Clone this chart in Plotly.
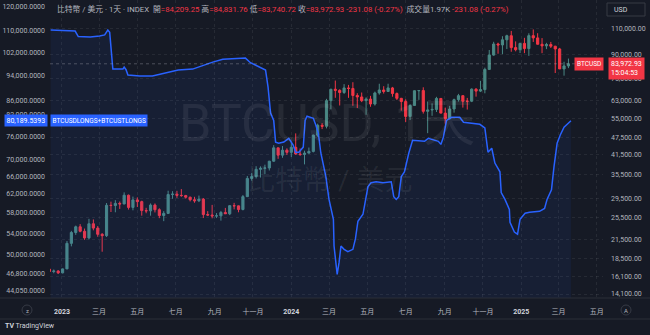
import plotly.graph_objects as go
import math

# ---------------- data ----------------
# Weekly BTCUSD candles (week start, open, high, low, close)
week = ["2022-12-12","2022-12-19","2022-12-26","2023-01-02","2023-01-09","2023-01-16","2023-01-23","2023-01-30",
        "2023-02-06","2023-02-13","2023-02-20","2023-02-27","2023-03-06","2023-03-13","2023-03-20","2023-03-27",
        "2023-04-03","2023-04-10","2023-04-17","2023-04-24","2023-05-01","2023-05-08","2023-05-15","2023-05-22",
        "2023-05-29","2023-06-05","2023-06-12","2023-06-19","2023-06-26","2023-07-03","2023-07-10","2023-07-17",
        "2023-07-24","2023-07-31","2023-08-07","2023-08-14","2023-08-21","2023-08-28","2023-09-04","2023-09-11",
        "2023-09-18","2023-09-25","2023-10-02","2023-10-09","2023-10-16","2023-10-23","2023-10-30","2023-11-06",
        "2023-11-13","2023-11-20","2023-11-27","2023-12-04","2023-12-11","2023-12-18","2023-12-25","2024-01-01",
        "2024-01-08","2024-01-15","2024-01-22","2024-01-29","2024-02-05","2024-02-12","2024-02-19","2024-02-26",
        "2024-03-04","2024-03-11","2024-03-18","2024-03-25","2024-04-01","2024-04-08","2024-04-15","2024-04-22",
        "2024-04-29","2024-05-06","2024-05-13","2024-05-20","2024-05-27","2024-06-03","2024-06-10","2024-06-17",
        "2024-06-24","2024-07-01","2024-07-08","2024-07-15","2024-07-22","2024-07-29","2024-08-05","2024-08-12",
        "2024-08-19","2024-08-26","2024-09-02","2024-09-09","2024-09-16","2024-09-23","2024-09-30","2024-10-07",
        "2024-10-14","2024-10-21","2024-10-28","2024-11-04","2024-11-11","2024-11-18","2024-11-25","2024-12-02",
        "2024-12-09","2024-12-16","2024-12-23","2024-12-30","2025-01-06","2025-01-13","2025-01-20","2025-01-27",
        "2025-02-03","2025-02-10","2025-02-17","2025-02-24","2025-03-03","2025-03-10","2025-03-17"]
btc_open = [17100,16780,16840,16610,17130,20880,22710,23740,22930,21780,24300,23500,22400,22160,28040,27990,
            28460,28340,30320,27590,29240,28850,26920,26860,28100,27100,25900,26340,30480,30580,30290,30240,
            29860,29280,29040,29420,26100,26000,25830,25840,26530,26250,27970,27920,27150,29990,34530,35030,
            37060,37360,37450,39470,43780,41370,42990,42280,43950,41730,41580,42030,42580,48300,52140,51730,
            63110,68950,68370,67230,69650,69350,65700,64950,63100,63900,61480,67000,68550,67770,69650,66680,
            64250,62680,55850,60800,68160,68250,58100,58720,58960,64200,57300,54870,59150,63600,65600,62850,
            62850,69000,67950,68750,80400,89850,97900,97200,101150,104400,95200,93700,98350,94500,104450,102650,
            97700,96500,97500,96250,94200,80700,82600]
btc_high = [18400,17050,16970,17180,21260,23000,23960,24240,23420,25250,25130,23880,22600,28550,28850,29180,
            28880,31000,30480,30000,29820,29060,27500,28450,28450,27400,26800,31400,31280,31380,31800,30400,
            29980,29950,30240,29670,26800,28130,26400,26850,27480,27300,28580,27980,30380,35200,35980,37970,
            37920,38420,39580,44700,43800,44400,43610,45880,48970,43560,42820,43880,48500,52820,52980,64000,
            69170,73750,68920,71730,71300,72800,66870,67230,64750,65500,67700,71950,70600,71950,70200,67250,
            64480,63800,61400,68300,68400,70000,62700,61800,65000,64400,59800,60600,64100,66500,65600,64470,
            69400,69500,73600,81500,93450,99600,98900,104000,105200,108350,99900,98900,102700,106400,109600,106450,
            102500,98800,99500,96500,95000,85300,87450]
btc_low = [16500,16560,16460,16550,17100,20400,22300,22750,21450,21530,23100,21970,19570,21930,26620,26560,
           27270,28250,27130,26970,27680,25880,26370,25880,26530,25380,24800,26260,29500,29700,29950,29530,
           28900,28600,28750,25400,25800,25350,25400,24900,26360,25990,27170,26560,26960,29900,33940,34520,
           34770,35650,36730,39300,40200,40530,41420,40750,41500,41140,38510,41880,42250,47700,50620,50900,
           59000,64520,60800,66500,64500,60660,59600,62400,56550,60190,60760,66100,66670,67600,65080,63400,
           58400,53500,54300,60700,63500,57100,49050,56100,57800,57200,52550,54600,57500,62700,59800,58900,
           62400,65100,67450,66800,80200,89400,90800,90500,94150,92200,92500,91300,91200,89300,99500,97800,
           91200,94100,94900,78200,81400,76600,81200]
btc_close = [16780,16840,16610,17130,20880,22710,23740,22930,21780,24300,23500,22400,22160,28040,27990,28460,
             28340,30320,27590,29240,28850,26920,26860,28100,27100,25900,26340,30480,30580,30290,30240,29860,
             29280,29040,29420,26100,26000,25830,25840,26530,26250,27970,27920,27150,29990,34530,35030,37060,
             37360,37450,39470,43780,41370,42990,42280,43950,41730,41580,42030,42580,48300,52140,51730,63110,
             68950,68370,67230,69650,69350,65700,64950,63100,63900,61480,67000,68550,67770,69650,66680,64250,
             62680,55850,60800,68160,68250,58100,58720,58960,64200,57300,54870,59150,63600,65600,62850,62850,
             69000,67950,68750,80400,89850,97900,97200,101150,104400,95200,93700,98350,94500,104450,102650,97700,
             96500,97500,96250,94200,80700,82600,83972.93]

# BTCUSDLONGS+BTCUSTLONGS line
longs_date = ["2022-12-14","2022-12-29","2023-01-22","2023-01-27","2023-02-15","2023-03-02","2023-03-10","2023-03-15",
              "2023-03-18","2023-03-23","2023-04-08","2023-04-10","2023-04-13","2023-04-16","2023-05-05","2023-05-25",
              "2023-06-14","2023-07-05","2023-07-28","2023-08-06","2023-08-29","2023-09-14","2023-10-04","2023-10-20",
              "2023-10-28","2023-11-13","2023-11-21","2023-11-25","2023-11-29","2023-12-04","2023-12-07","2023-12-12",
              "2023-12-20","2023-12-28","2024-01-04","2024-01-08","2024-01-13","2024-01-20","2024-01-23","2024-01-26",
              "2024-02-05","2024-02-09","2024-02-13","2024-02-17","2024-02-25","2024-03-01","2024-03-08","2024-03-09",
              "2024-03-14","2024-03-17","2024-03-20","2024-03-25","2024-03-31","2024-04-08","2024-04-12","2024-04-16",
              "2024-04-24","2024-05-02","2024-05-07","2024-05-15","2024-05-26","2024-06-08","2024-06-12","2024-06-16",
              "2024-06-20","2024-06-24","2024-06-29","2024-07-06","2024-07-12","2024-07-31","2024-08-06","2024-08-22",
              "2024-08-26","2024-08-30","2024-09-04","2024-09-12","2024-09-25","2024-10-01","2024-10-14","2024-10-27",
              "2024-11-04","2024-11-07","2024-11-09","2024-11-15","2024-11-20","2024-11-28","2024-11-30","2024-12-06",
              "2024-12-13","2024-12-14","2024-12-21","2024-12-26","2024-12-30","2025-01-07","2025-01-14","2025-01-30",
              "2025-02-07","2025-02-11","2025-02-18","2025-02-22","2025-02-27","2025-03-04","2025-03-10","2025-03-21"]
longs_val = [110400,110200,110000,107900,107700,108100,108500,110400,
             109500,96200,96200,96900,96000,94200,93900,93900,
             94900,95900,96200,96900,98600,99600,99800,100000,
             98400,96900,95900,90300,82400,80300,74400,74100,
             74400,75400,73600,71800,71800,73100,80300,81500,
             80900,79000,76800,71600,65900,60800,56700,51600,
             46700,48700,51600,51000,50600,51000,52900,56300,
             57700,63600,64500,64700,64500,64700,61400,60800,
             61400,65900,67000,71600,74900,74600,75400,74600,
             73800,75700,80300,81200,81200,79800,79500,79200,
             78200,74900,71800,72800,69100,67000,62300,60800,
             58700,56100,54200,53800,56700,57900,58100,58300,
             58900,60800,62900,68200,74100,76300,78400,80189.5393]

left_ticks = [44050, 46800, 50000, 54000, 58000, 62000, 66000, 70000, 76000, 82000, 86000, 94000, 102000, 110000, 120000]
right_ticks = [14100, 16100, 18500, 21500, 25500, 29500, 35500, 41500, 47500, 55000, 63000, 75000, 90000, 110000]
time_ticks = ["2023-01-01","2023-03-01","2023-05-01","2023-07-01","2023-09-01","2023-11-01",
              "2024-01-01","2024-03-01","2024-05-01","2024-07-01","2024-09-01","2024-11-01",
              "2025-01-01","2025-03-01","2025-05-01"]
time_labels = ["2023","三月","五月","七月","九月","十一月","2024","三月","五月","七月","九月","十一月","2025","三月","五月"]

last_price = 83972.93
last_longs = 80189.5393

# ---------------- style ----------------
BG = "#161a25"
GRID = "rgba(255,255,255,0.07)"
TXT = "#b2b5be"
RED = "#f23645"
UP = "#4a8884"
BLUE = "#2962ff"
FONT = "Roboto, 'Noto Sans CJK TC', sans-serif"

W, H = 650, 335
L, R, T, B = 50, 47, 0, 37
PW, PH = W - L - R, H - T - B

def px(xp):
    return (xp - L) / PW

def py(yp):
    return (H - B - yp) / PH

fig = go.Figure()

fig.add_trace(go.Candlestick(
    x=week, open=btc_open, high=btc_high, low=btc_low, close=btc_close,
    increasing=dict(line=dict(color=UP, width=1), fillcolor=UP),
    decreasing=dict(line=dict(color=RED, width=1), fillcolor=RED),
    whiskerwidth=0, yaxis="y", showlegend=False, hoverinfo="skip"))

fig.add_trace(go.Scatter(
    x=longs_date, y=longs_val, mode="lines", yaxis="y2",
    line=dict(color=BLUE, width=1.5), fill="tozeroy",
    fillcolor="rgba(41,98,255,0.07)", showlegend=False, hoverinfo="skip"))

fmt_right = [f"{v:,.2f}" for v in right_ticks]
fmt_left = [f"{v:,.4f}" for v in left_ticks]
tick_html = [(f'<span style="color:#d1d4dc"><b>{t}</b></span>' if t.isdigit() else t) for t in time_labels]

fig.update_layout(
    width=W, height=H, margin=dict(l=L, r=R, t=T, b=B),
    paper_bgcolor=BG, plot_bgcolor=BG,
    font=dict(family=FONT, size=7, color=TXT),
    xaxis=dict(type="date", range=["2022-12-13", "2025-05-11"], rangeslider=dict(visible=False),
               tickvals=time_ticks, ticktext=tick_html, showgrid=True, gridcolor=GRID, griddash="dot",
               gridwidth=1, zeroline=False, showline=False, ticks="", ticklabelstandoff=8,
               tickfont=dict(size=7, color=TXT)),
    yaxis=dict(type="log", side="right", range=[math.log10(13670), math.log10(137700)],
               tickvals=right_ticks, ticktext=fmt_right, showgrid=True, gridcolor=GRID, griddash="dot",
               zeroline=False, showline=False, ticks="", ticklabelstandoff=7,
               tickfont=dict(size=7, color=TXT)),
    yaxis2=dict(type="log", side="left", overlaying="y", range=[math.log10(42970), math.log10(122700)],
                tickvals=left_ticks, ticktext=fmt_left, showgrid=False, zeroline=False, showline=False,
                ticks="", ticklabelstandoff=4, tickfont=dict(size=7, color=TXT)),
)

ann = []
# watermark
ann.append(dict(xref="paper", yref="paper", x=px(327), y=py(124), text="BTCUSD, 1天", showarrow=False,
                font=dict(family=FONT, size=52, color="rgba(255,255,255,0.07)"), xanchor="center", yanchor="middle"))
ann.append(dict(xref="paper", yref="paper", x=px(329), y=py(180), text="比特幣 / 美元", showarrow=False,
                font=dict(family=FONT, size=28, color="rgba(255,255,255,0.07)"), xanchor="center", yanchor="middle"))

# header legend
def g(s):
    return f'<span style="color:{TXT}">{s}</span>'
def r(s):
    return f'<span style="color:{RED}">{s}</span>'
header = (g("比特幣 / 美元 · 1天 · INDEX") + "  " + g("開") + r("=84,209.25") + " " + g("高") + r("=84,831.76") + " " +
          g("低") + r("=83,740.72") + " " + g("收") + r("=83,972.93") + " " + r("-231.08 (-0.27%)") + "  " +
          g("成交量") + g("1.97K") + " " + r("-231.08 (-0.27%)"))
ann.append(dict(xref="paper", yref="paper", x=px(55), y=py(9), text=header, showarrow=False,
                xanchor="left", yanchor="middle", font=dict(family=FONT, size=7.8)))

# USD box
ann.append(dict(xref="paper", yref="paper", x=px(612), y=py(9.5), text="USD", showarrow=False,
                xanchor="left", yanchor="middle", font=dict(family=FONT, size=7, color="#d1d4dc")))

# last price labels
ann.append(dict(xref="paper", yref="y", x=px(604), y=math.log10(last_price), text="BTCUSD", showarrow=False,
                xanchor="right", yanchor="middle", bgcolor=RED, borderpad=2,
                font=dict(family=FONT, size=6.5, color="white")))
ann.append(dict(xref="paper", yref="y", x=px(608), y=math.log10(last_price), yshift=7,
                text=f"{last_price:,.2f}<br>15:04:53", showarrow=False, align="left",
                xanchor="left", yanchor="top", bgcolor=RED, borderpad=2,
                font=dict(family=FONT, size=7, color="white")))

# last value of longs line
ann.append(dict(xref="paper", yref="y2", x=px(48), y=math.log10(last_longs), text=f"{last_longs:,.4f}",
                showarrow=False, xanchor="right", yanchor="middle", bgcolor=BLUE, borderpad=1.5,
                font=dict(family=FONT, size=7, color="white")))
ann.append(dict(xref="paper", yref="y2", x=px(50), y=math.log10(last_longs), text="BTCUSDLONGS+BTCUSTLONGS",
                showarrow=False, xanchor="left", yanchor="middle", bgcolor=BLUE, borderpad=1.5,
                font=dict(family=FONT, size=6.5, color="white")))

# bottom icons / logo
ann.append(dict(xref="paper", yref="paper", x=px(27), y=py(310), text="z", showarrow=False,
                font=dict(family=FONT, size=6, color=TXT), xanchor="center", yanchor="middle"))
ann.append(dict(xref="paper", yref="paper", x=px(626), y=py(310), text="A", showarrow=False,
                font=dict(family=FONT, size=6, color=TXT), xanchor="center", yanchor="middle"))
ann.append(dict(xref="paper", yref="paper", x=px(3), y=py(326), text="<b>TV</b> TradingView", showarrow=False,
                font=dict(family=FONT, size=7, color="#d1d4dc"), xanchor="left", yanchor="middle"))

fig.update_layout(annotations=ann)

shapes = []
# current price line
shapes.append(dict(type="line", xref="paper", yref="y", x0=0, x1=1, y0=last_price, y1=last_price,
                   line=dict(color="rgba(180,180,190,0.35)", width=1, dash="dot")))
# USD box
shapes.append(dict(type="rect", xref="paper", yref="paper", x0=px(607), x1=px(645), y0=py(16), y1=py(3),
                   line=dict(color="#363a45", width=1), fillcolor=BG, layer="below"))
# bottom axis icons circles
for cx in (27, 626):
    shapes.append(dict(type="circle", xref="paper", yref="paper", x0=px(cx - 5), x1=px(cx + 5),
                       y0=py(315), y1=py(305), line=dict(color="#363a45", width=1)))
# axis separators
shapes.append(dict(type="line", xref="paper", yref="paper", x0=px(0), x1=px(650), y0=py(298), y1=py(298),
                   line=dict(color="#2a2e39", width=1)))
shapes.append(dict(type="line", xref="paper", yref="paper", x0=px(0), x1=px(650), y0=py(319), y1=py(319),
                   line=dict(color="#2a2e39", width=1)))
fig.update_layout(shapes=shapes)

fig.write_html("out.html")
